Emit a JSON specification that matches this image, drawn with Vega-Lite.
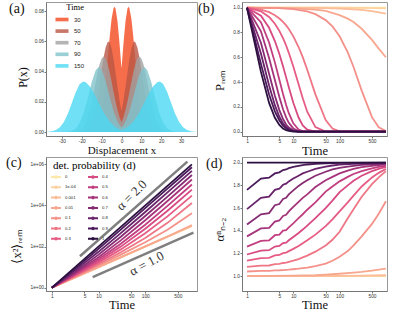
{
"$schema": "https://vega.github.io/schema/vega-lite/v6.json",
"padding": {"left": 5, "top": 1, "right": 0, "bottom": 0},
"bounds": "flush",
"columns": 2,
"spacing": {"row": 21, "column": 45},
"resolve": {"scale": {"color": "independent"}, "legend": {"color": "independent"}},
"config": {
  "view": {"stroke": "#999999", "strokeWidth": 1},
  "axis": {"grid": false, "labelFont": "Liberation Sans", "labelFontSize": 4.8, "labelColor": "#333333", "labelPadding": 0.5, "tickSize": 2, "tickColor": "#555555", "tickWidth": 0.8, "domainColor": "#777777", "domainWidth": 1, "titleFont": "Liberation Serif", "titleFontWeight": "normal", "titleColor": "#111111", "titleFontSize": 12.5},
  "title": {"font": "Liberation Serif", "fontSize": 14, "fontWeight": "normal", "color": "#111111", "anchor": "start", "frame": "group", "offset": -13.5},
  "legend": {"padding": 0}
},
"datasets": {
"a": [
{"s":"30","x":-38,"p":0},{"s":"30","x":-20,"p":0},{"s":"30","x":-16,"p":0.0001},{"s":"30","x":-14,"p":0.0005},{"s":"30","x":-12,"p":0.003},{"s":"30","x":-10,"p":0.0119},{"s":"30","x":-9,"p":0.0207},{"s":"30","x":-8,"p":0.0328},{"s":"30","x":-7,"p":0.0473},{"s":"30","x":-6,"p":0.0623},{"s":"30","x":-5,"p":0.0749},{"s":"30","x":-4,"p":0.082},{"s":"30","x":-3.5,"p":0.083},{"s":"30","x":-3,"p":0.0818},{"s":"30","x":-2,"p":0.0732},{"s":"30","x":-1,"p":0.0587},{"s":"30","x":0,"p":0.042},{"s":"30","x":1,"p":0.0587},{"s":"30","x":2,"p":0.0732},{"s":"30","x":3,"p":0.0818},{"s":"30","x":3.5,"p":0.083},{"s":"30","x":4,"p":0.082},{"s":"30","x":5,"p":0.0749},{"s":"30","x":6,"p":0.0623},{"s":"30","x":7,"p":0.0473},{"s":"30","x":8,"p":0.0328},{"s":"30","x":9,"p":0.0207},{"s":"30","x":10,"p":0.0119},{"s":"30","x":12,"p":0.003},{"s":"30","x":14,"p":0.0005},{"s":"30","x":16,"p":0.0001},{"s":"30","x":20,"p":0},{"s":"30","x":38,"p":0},
{"s":"50","x":-38,"p":0},{"s":"50","x":-22,"p":0},{"s":"50","x":-20,"p":0.0002},{"s":"50","x":-18,"p":0.001},{"s":"50","x":-16,"p":0.0036},{"s":"50","x":-14,"p":0.0103},{"s":"50","x":-13,"p":0.016},{"s":"50","x":-12,"p":0.0233},{"s":"50","x":-11,"p":0.0319},{"s":"50","x":-10,"p":0.0409},{"s":"50","x":-9,"p":0.0494},{"s":"50","x":-8,"p":0.0559},{"s":"50","x":-7,"p":0.0595},{"s":"50","x":-6.5,"p":0.06},{"s":"50","x":-6,"p":0.0595},{"s":"50","x":-5,"p":0.0555},{"s":"50","x":-4,"p":0.0483},{"s":"50","x":-3,"p":0.0393},{"s":"50","x":-2,"p":0.0298},{"s":"50","x":-1,"p":0.0211},{"s":"50","x":0,"p":0.0139},{"s":"50","x":1,"p":0.0211},{"s":"50","x":2,"p":0.0298},{"s":"50","x":3,"p":0.0393},{"s":"50","x":4,"p":0.0483},{"s":"50","x":5,"p":0.0555},{"s":"50","x":6,"p":0.0595},{"s":"50","x":6.5,"p":0.06},{"s":"50","x":7,"p":0.0595},{"s":"50","x":8,"p":0.0559},{"s":"50","x":9,"p":0.0494},{"s":"50","x":10,"p":0.0409},{"s":"50","x":11,"p":0.0319},{"s":"50","x":12,"p":0.0233},{"s":"50","x":13,"p":0.016},{"s":"50","x":14,"p":0.0103},{"s":"50","x":16,"p":0.0036},{"s":"50","x":18,"p":0.001},{"s":"50","x":20,"p":0.0002},{"s":"50","x":22,"p":0},{"s":"50","x":38,"p":0},
{"s":"70","x":-38,"p":0},{"s":"70","x":-26,"p":0},{"s":"70","x":-24,"p":0.0001},{"s":"70","x":-22,"p":0.0006},{"s":"70","x":-20,"p":0.0022},{"s":"70","x":-18,"p":0.0062},{"s":"70","x":-16,"p":0.0141},{"s":"70","x":-14,"p":0.0262},{"s":"70","x":-12,"p":0.0396},{"s":"70","x":-11,"p":0.0451},{"s":"70","x":-10,"p":0.0487},{"s":"70","x":-9,"p":0.05},{"s":"70","x":-8,"p":0.0488},{"s":"70","x":-7,"p":0.0452},{"s":"70","x":-6,"p":0.0399},{"s":"70","x":-5,"p":0.0334},{"s":"70","x":-4,"p":0.0267},{"s":"70","x":-3,"p":0.0202},{"s":"70","x":-2,"p":0.0146},{"s":"70","x":-1,"p":0.01},{"s":"70","x":0,"p":0.0065},{"s":"70","x":1,"p":0.01},{"s":"70","x":2,"p":0.0146},{"s":"70","x":3,"p":0.0202},{"s":"70","x":4,"p":0.0267},{"s":"70","x":5,"p":0.0334},{"s":"70","x":6,"p":0.0399},{"s":"70","x":7,"p":0.0452},{"s":"70","x":8,"p":0.0488},{"s":"70","x":9,"p":0.05},{"s":"70","x":10,"p":0.0487},{"s":"70","x":11,"p":0.0451},{"s":"70","x":12,"p":0.0396},{"s":"70","x":14,"p":0.0262},{"s":"70","x":16,"p":0.0141},{"s":"70","x":18,"p":0.0062},{"s":"70","x":20,"p":0.0022},{"s":"70","x":22,"p":0.0006},{"s":"70","x":24,"p":0.0001},{"s":"70","x":26,"p":0},{"s":"70","x":38,"p":0},
{"s":"90","x":-38,"p":0},{"s":"90","x":-29,"p":0},{"s":"90","x":-27,"p":0.0002},{"s":"90","x":-25,"p":0.0008},{"s":"90","x":-23,"p":0.0024},{"s":"90","x":-21,"p":0.0061},{"s":"90","x":-19,"p":0.0127},{"s":"90","x":-17,"p":0.0223},{"s":"90","x":-15,"p":0.033},{"s":"90","x":-13,"p":0.041},{"s":"90","x":-11.5,"p":0.043},{"s":"90","x":-10,"p":0.0411},{"s":"90","x":-9,"p":0.0379},{"s":"90","x":-8,"p":0.0337},{"s":"90","x":-7,"p":0.0287},{"s":"90","x":-6,"p":0.0235},{"s":"90","x":-5,"p":0.0185},{"s":"90","x":-4,"p":0.014},{"s":"90","x":-3,"p":0.0101},{"s":"90","x":-2,"p":0.0071},{"s":"90","x":-1,"p":0.0047},{"s":"90","x":0,"p":0.0031},{"s":"90","x":1,"p":0.0047},{"s":"90","x":2,"p":0.0071},{"s":"90","x":3,"p":0.0101},{"s":"90","x":4,"p":0.014},{"s":"90","x":5,"p":0.0185},{"s":"90","x":6,"p":0.0235},{"s":"90","x":7,"p":0.0287},{"s":"90","x":8,"p":0.0337},{"s":"90","x":9,"p":0.0379},{"s":"90","x":10,"p":0.0411},{"s":"90","x":11.5,"p":0.043},{"s":"90","x":13,"p":0.041},{"s":"90","x":15,"p":0.033},{"s":"90","x":17,"p":0.0223},{"s":"90","x":19,"p":0.0127},{"s":"90","x":21,"p":0.0061},{"s":"90","x":23,"p":0.0024},{"s":"90","x":25,"p":0.0008},{"s":"90","x":27,"p":0.0002},{"s":"90","x":29,"p":0},{"s":"90","x":38,"p":0},
{"s":"150","x":-38,"p":0.0001},{"s":"150","x":-35,"p":0.0005},{"s":"150","x":-33,"p":0.0013},{"s":"150","x":-31,"p":0.0032},{"s":"150","x":-29,"p":0.0067},{"s":"150","x":-27,"p":0.0121},{"s":"150","x":-25,"p":0.0192},{"s":"150","x":-23,"p":0.0265},{"s":"150","x":-21,"p":0.0319},{"s":"150","x":-19.3,"p":0.0335},{"s":"150","x":-18,"p":0.033},{"s":"150","x":-16,"p":0.0304},{"s":"150","x":-14,"p":0.0261},{"s":"150","x":-12,"p":0.0209},{"s":"150","x":-9,"p":0.013},{"s":"150","x":-6,"p":0.007},{"s":"150","x":-3,"p":0.0032},{"s":"150","x":0,"p":0.0012},{"s":"150","x":3,"p":0.0032},{"s":"150","x":6,"p":0.007},{"s":"150","x":9,"p":0.013},{"s":"150","x":12,"p":0.0209},{"s":"150","x":14,"p":0.0261},{"s":"150","x":16,"p":0.0304},{"s":"150","x":18,"p":0.033},{"s":"150","x":19.3,"p":0.0335},{"s":"150","x":21,"p":0.0319},{"s":"150","x":23,"p":0.0265},{"s":"150","x":25,"p":0.0192},{"s":"150","x":27,"p":0.0121},{"s":"150","x":29,"p":0.0067},{"s":"150","x":31,"p":0.0032},{"s":"150","x":33,"p":0.0013},{"s":"150","x":35,"p":0.0005},{"s":"150","x":38,"p":0.0001}
],
"b": [
{"d":"0","t":1,"v":1},{"d":"0","t":1000,"v":1},
{"d":"1e-04","t":1,"v":1},{"d":"1e-04","t":100,"v":0.9995},{"d":"1e-04","t":300,"v":0.998},{"d":"1e-04","t":1000,"v":0.995},
{"d":"0.001","t":1,"v":1},{"d":"0.001","t":30,"v":0.998},{"d":"0.001","t":100,"v":0.993},{"d":"0.001","t":200,"v":0.987},{"d":"0.001","t":300,"v":0.982},{"d":"0.001","t":500,"v":0.973},{"d":"0.001","t":700,"v":0.963},{"d":"0.001","t":1000,"v":0.952},
{"d":"0.01","t":1,"v":1},{"d":"0.01","t":10,"v":0.995},{"d":"0.01","t":30,"v":0.985},{"d":"0.01","t":50,"v":0.975},{"d":"0.01","t":100,"v":0.94},{"d":"0.01","t":150,"v":0.912},{"d":"0.01","t":200,"v":0.885},{"d":"0.01","t":300,"v":0.83},{"d":"0.01","t":500,"v":0.74},{"d":"0.01","t":700,"v":0.67},{"d":"0.01","t":1000,"v":0.6},
{"d":"0.1","t":1,"v":1},{"d":"0.1","t":2,"v":0.9993},{"d":"0.1","t":3,"v":0.9984},{"d":"0.1","t":5,"v":0.996},{"d":"0.1","t":10,"v":0.988},{"d":"0.1","t":20,"v":0.97},{"d":"0.1","t":30,"v":0.948},{"d":"0.1","t":50,"v":0.9},{"d":"0.1","t":70,"v":0.849},{"d":"0.1","t":100,"v":0.769},{"d":"0.1","t":150,"v":0.64},{"d":"0.1","t":200,"v":0.522},{"d":"0.1","t":300,"v":0.331},{"d":"0.1","t":500,"v":0.117},{"d":"0.1","t":700,"v":0.036},{"d":"0.1","t":1000,"v":0.005},
{"d":"0.2","t":1,"v":1},{"d":"0.2","t":2,"v":0.985},{"d":"0.2","t":3,"v":0.964},{"d":"0.2","t":4,"v":0.939},{"d":"0.2","t":5,"v":0.913},{"d":"0.2","t":6,"v":0.885},{"d":"0.2","t":7,"v":0.857},{"d":"0.2","t":8,"v":0.828},{"d":"0.2","t":10,"v":0.769},{"d":"0.2","t":13,"v":0.683},{"d":"0.2","t":16,"v":0.601},{"d":"0.2","t":20,"v":0.5},{"d":"0.2","t":30,"v":0.301},{"d":"0.2","t":50,"v":0.093},{"d":"0.2","t":70,"v":0.025},{"d":"0.2","t":100,"v":0.003},{"d":"0.2","t":150,"v":0},{"d":"0.2","t":1000,"v":0},
{"d":"0.3","t":1,"v":1},{"d":"0.3","t":2,"v":0.971},{"d":"0.3","t":3,"v":0.925},{"d":"0.3","t":4,"v":0.871},{"d":"0.3","t":5,"v":0.813},{"d":"0.3","t":6,"v":0.754},{"d":"0.3","t":7,"v":0.695},{"d":"0.3","t":8,"v":0.636},{"d":"0.3","t":10,"v":0.526},{"d":"0.3","t":13,"v":0.382},{"d":"0.3","t":16,"v":0.269},{"d":"0.3","t":20,"v":0.161},{"d":"0.3","t":30,"v":0.037},{"d":"0.3","t":50,"v":0.001},{"d":"0.3","t":70,"v":0},{"d":"0.3","t":1000,"v":0},
{"d":"0.4","t":1,"v":1},{"d":"0.4","t":2,"v":0.935},{"d":"0.4","t":3,"v":0.838},{"d":"0.4","t":4,"v":0.731},{"d":"0.4","t":5,"v":0.627},{"d":"0.4","t":6,"v":0.528},{"d":"0.4","t":7,"v":0.438},{"d":"0.4","t":8,"v":0.359},{"d":"0.4","t":10,"v":0.233},{"d":"0.4","t":13,"v":0.114},{"d":"0.4","t":16,"v":0.051},{"d":"0.4","t":20,"v":0.016},{"d":"0.4","t":30,"v":0.0006},{"d":"0.4","t":50,"v":0},{"d":"0.4","t":1000,"v":0},
{"d":"0.5","t":1,"v":1},{"d":"0.5","t":2,"v":0.883},{"d":"0.5","t":3,"v":0.719},{"d":"0.5","t":4,"v":0.559},{"d":"0.5","t":5,"v":0.419},{"d":"0.5","t":6,"v":0.304},{"d":"0.5","t":7,"v":0.215},{"d":"0.5","t":8,"v":0.149},{"d":"0.5","t":10,"v":0.067},{"d":"0.5","t":13,"v":0.017},{"d":"0.5","t":16,"v":0.004},{"d":"0.5","t":20,"v":0.0004},{"d":"0.5","t":30,"v":0},{"d":"0.5","t":1000,"v":0},
{"d":"0.6","t":1,"v":1},{"d":"0.6","t":2,"v":0.81},{"d":"0.6","t":3,"v":0.595},{"d":"0.6","t":4,"v":0.416},{"d":"0.6","t":5,"v":0.279},{"d":"0.6","t":6,"v":0.181},{"d":"0.6","t":7,"v":0.115},{"d":"0.6","t":8,"v":0.071},{"d":"0.6","t":10,"v":0.026},{"d":"0.6","t":13,"v":0.005},{"d":"0.6","t":16,"v":0.0008},{"d":"0.6","t":20,"v":0},{"d":"0.6","t":1000,"v":0},
{"d":"0.7","t":1,"v":1},{"d":"0.7","t":2,"v":0.718},{"d":"0.7","t":3,"v":0.467},{"d":"0.7","t":4,"v":0.29},{"d":"0.7","t":5,"v":0.174},{"d":"0.7","t":6,"v":0.102},{"d":"0.7","t":7,"v":0.058},{"d":"0.7","t":8,"v":0.033},{"d":"0.7","t":10,"v":0.0098},{"d":"0.7","t":13,"v":0.0014},{"d":"0.7","t":16,"v":0},{"d":"0.7","t":1000,"v":0},
{"d":"0.8","t":1,"v":1},{"d":"0.8","t":2,"v":0.631},{"d":"0.8","t":3,"v":0.373},{"d":"0.8","t":4,"v":0.214},{"d":"0.8","t":5,"v":0.12},{"d":"0.8","t":6,"v":0.067},{"d":"0.8","t":7,"v":0.037},{"d":"0.8","t":8,"v":0.02},{"d":"0.8","t":10,"v":0.0057},{"d":"0.8","t":13,"v":0.0008},{"d":"0.8","t":16,"v":0},{"d":"0.8","t":1000,"v":0},
{"d":"0.9","t":1,"v":1},{"d":"0.9","t":2,"v":0.547},{"d":"0.9","t":3,"v":0.3},{"d":"0.9","t":4,"v":0.164},{"d":"0.9","t":5,"v":0.09},{"d":"0.9","t":6,"v":0.049},{"d":"0.9","t":7,"v":0.027},{"d":"0.9","t":8,"v":0.015},{"d":"0.9","t":10,"v":0.0044},{"d":"0.9","t":13,"v":0.0007},{"d":"0.9","t":16,"v":0},{"d":"0.9","t":1000,"v":0},
{"d":"1","t":1,"v":1},{"d":"1","t":2,"v":0.482},{"d":"1","t":3,"v":0.232},{"d":"1","t":4,"v":0.112},{"d":"1","t":5,"v":0.054},{"d":"1","t":6,"v":0.026},{"d":"1","t":7,"v":0.0125},{"d":"1","t":8,"v":0.006},{"d":"1","t":10,"v":0.0014},{"d":"1","t":13,"v":0.0002},{"d":"1","t":16,"v":0},{"d":"1","t":1000,"v":0}
],
"c": [
{"d":"0","t":1,"v":1},{"d":"0","t":1000,"v":1000},
{"d":"1e-04","t":1,"v":1},{"d":"1e-04","t":1000,"v":1001},
{"d":"0.001","t":1,"v":1},{"d":"0.001","t":100,"v":100},{"d":"0.001","t":1000,"v":1012},
{"d":"0.01","t":1,"v":1},{"d":"0.01","t":10,"v":10},{"d":"0.01","t":100,"v":101.4},{"d":"0.01","t":300,"v":309},{"d":"0.01","t":1000,"v":1122},
{"d":"0.1","t":1,"v":1},{"d":"0.1","t":3,"v":3.26},{"d":"0.1","t":10,"v":12},{"d":"0.1","t":30,"v":40.3},{"d":"0.1","t":100,"v":161},{"d":"0.1","t":300,"v":664},{"d":"0.1","t":1000,"v":4169},
{"d":"0.2","t":1,"v":1},{"d":"0.2","t":3,"v":3.46},{"d":"0.2","t":10,"v":13.8},{"d":"0.2","t":30,"v":52.4},{"d":"0.2","t":100,"v":258},{"d":"0.2","t":300,"v":1426},{"d":"0.2","t":1000,"v":13180},
{"d":"0.3","t":1,"v":1},{"d":"0.3","t":3,"v":3.71},{"d":"0.3","t":10,"v":16.6},{"d":"0.3","t":30,"v":72.8},{"d":"0.3","t":100,"v":444},{"d":"0.3","t":300,"v":2931},{"d":"0.3","t":1000,"v":30200},
{"d":"0.4","t":1,"v":1},{"d":"0.4","t":3,"v":3.96},{"d":"0.4","t":10,"v":19.7},{"d":"0.4","t":30,"v":99.3},{"d":"0.4","t":100,"v":733},{"d":"0.4","t":300,"v":5495},{"d":"0.4","t":1000,"v":58880},
{"d":"0.5","t":1,"v":1},{"d":"0.5","t":3,"v":4.31},{"d":"0.5","t":10,"v":23.9},{"d":"0.5","t":30,"v":136},{"d":"0.5","t":100,"v":1159},{"d":"0.5","t":300,"v":9484},{"d":"0.5","t":1000,"v":104700},
{"d":"0.6","t":1,"v":1},{"d":"0.6","t":3,"v":4.78},{"d":"0.6","t":10,"v":30.3},{"d":"0.6","t":30,"v":200},{"d":"0.6","t":100,"v":1897},{"d":"0.6","t":300,"v":16370},{"d":"0.6","t":1000,"v":182000},
{"d":"0.7","t":1,"v":1},{"d":"0.7","t":3,"v":5.38},{"d":"0.7","t":10,"v":40.4},{"d":"0.7","t":30,"v":299},{"d":"0.7","t":100,"v":3076},{"d":"0.7","t":300,"v":27040},{"d":"0.7","t":1000,"v":302000},
{"d":"0.8","t":1,"v":1},{"d":"0.8","t":3,"v":6.37},{"d":"0.8","t":10,"v":55.5},{"d":"0.8","t":30,"v":451},{"d":"0.8","t":100,"v":4819},{"d":"0.8","t":300,"v":42950},{"d":"0.8","t":1000,"v":478600},
{"d":"0.9","t":1,"v":1},{"d":"0.9","t":3,"v":7.59},{"d":"0.9","t":10,"v":76.7},{"d":"0.9","t":30,"v":668},{"d":"0.9","t":100,"v":7345},{"d":"0.9","t":300,"v":65620},{"d":"0.9","t":1000,"v":724400},
{"d":"1","t":1,"v":1},{"d":"1","t":1000,"v":1000000}
],
"refs": [
{"r":"a2","t":4,"v":34},{"r":"a2","t":800,"v":1360000},
{"r":"a1","t":7.5,"v":3.3},{"r":"a1","t":1080,"v":475}
],
"l2": [{"t":51.6,"v":31200,"label":"α = 2.0"}],
"l1": [{"t":108,"v":14.7,"label":"α = 1.0"}],
"d": [
{"d":"0","t":1,"v":1},{"d":"0","t":1000,"v":1},
{"d":"1e-04","t":1,"v":1},{"d":"1e-04","t":1000,"v":1.001},
{"d":"0.001","t":1,"v":1},{"d":"0.001","t":100,"v":1.002},{"d":"0.001","t":300,"v":1.004},{"d":"0.001","t":1000,"v":1.007},
{"d":"0.01","t":1,"v":1},{"d":"0.01","t":10,"v":1.003},{"d":"0.01","t":30,"v":1.007},{"d":"0.01","t":50,"v":1.012},{"d":"0.01","t":100,"v":1.02},{"d":"0.01","t":200,"v":1.03},{"d":"0.01","t":300,"v":1.037},{"d":"0.01","t":500,"v":1.048},{"d":"0.01","t":700,"v":1.056},{"d":"0.01","t":1000,"v":1.065},
{"d":"0.1","t":1,"v":1.04},{"d":"0.1","t":2,"v":1.045},{"d":"0.1","t":3,"v":1.046},{"d":"0.1","t":4,"v":1.05},{"d":"0.1","t":5,"v":1.051},{"d":"0.1","t":6,"v":1.053},{"d":"0.1","t":8,"v":1.056},{"d":"0.1","t":10,"v":1.06},{"d":"0.1","t":13,"v":1.065},{"d":"0.1","t":16,"v":1.07},{"d":"0.1","t":20,"v":1.075},{"d":"0.1","t":30,"v":1.088},{"d":"0.1","t":50,"v":1.11},{"d":"0.1","t":70,"v":1.135},{"d":"0.1","t":100,"v":1.17},{"d":"0.1","t":150,"v":1.22},{"d":"0.1","t":200,"v":1.27},{"d":"0.1","t":300,"v":1.35},{"d":"0.1","t":500,"v":1.46},{"d":"0.1","t":700,"v":1.55},{"d":"0.1","t":1000,"v":1.66},
{"d":"0.2","t":1,"v":1.08},{"d":"0.2","t":2,"v":1.092},{"d":"0.2","t":3,"v":1.093},{"d":"0.2","t":4,"v":1.105},{"d":"0.2","t":5,"v":1.107},{"d":"0.2","t":6,"v":1.115},{"d":"0.2","t":7,"v":1.118},{"d":"0.2","t":8,"v":1.125},{"d":"0.2","t":10,"v":1.135},{"d":"0.2","t":13,"v":1.15},{"d":"0.2","t":16,"v":1.165},{"d":"0.2","t":20,"v":1.18},{"d":"0.2","t":30,"v":1.215},{"d":"0.2","t":50,"v":1.27},{"d":"0.2","t":70,"v":1.32},{"d":"0.2","t":100,"v":1.39},{"d":"0.2","t":150,"v":1.51},{"d":"0.2","t":200,"v":1.59},{"d":"0.2","t":300,"v":1.7},{"d":"0.2","t":500,"v":1.81},{"d":"0.2","t":700,"v":1.87},{"d":"0.2","t":1000,"v":1.925},
{"d":"0.3","t":1,"v":1.135},{"d":"0.3","t":2,"v":1.158},{"d":"0.3","t":3,"v":1.16},{"d":"0.3","t":4,"v":1.182},{"d":"0.3","t":5,"v":1.186},{"d":"0.3","t":6,"v":1.202},{"d":"0.3","t":7,"v":1.207},{"d":"0.3","t":8,"v":1.22},{"d":"0.3","t":10,"v":1.24},{"d":"0.3","t":13,"v":1.265},{"d":"0.3","t":16,"v":1.29},{"d":"0.3","t":20,"v":1.315},{"d":"0.3","t":30,"v":1.365},{"d":"0.3","t":50,"v":1.44},{"d":"0.3","t":70,"v":1.5},{"d":"0.3","t":100,"v":1.57},{"d":"0.3","t":150,"v":1.65},{"d":"0.3","t":200,"v":1.71},{"d":"0.3","t":300,"v":1.79},{"d":"0.3","t":500,"v":1.87},{"d":"0.3","t":700,"v":1.91},{"d":"0.3","t":1000,"v":1.945},
{"d":"0.4","t":1,"v":1.19},{"d":"0.4","t":2,"v":1.225},{"d":"0.4","t":3,"v":1.228},{"d":"0.4","t":4,"v":1.26},{"d":"0.4","t":5,"v":1.265},{"d":"0.4","t":6,"v":1.29},{"d":"0.4","t":7,"v":1.295},{"d":"0.4","t":8,"v":1.315},{"d":"0.4","t":10,"v":1.345},{"d":"0.4","t":13,"v":1.38},{"d":"0.4","t":16,"v":1.41},{"d":"0.4","t":20,"v":1.445},{"d":"0.4","t":30,"v":1.51},{"d":"0.4","t":50,"v":1.6},{"d":"0.4","t":70,"v":1.665},{"d":"0.4","t":100,"v":1.74},{"d":"0.4","t":150,"v":1.8},{"d":"0.4","t":200,"v":1.84},{"d":"0.4","t":300,"v":1.885},{"d":"0.4","t":500,"v":1.925},{"d":"0.4","t":700,"v":1.945},{"d":"0.4","t":1000,"v":1.962},
{"d":"0.5","t":1,"v":1.26},{"d":"0.5","t":2,"v":1.31},{"d":"0.5","t":3,"v":1.315},{"d":"0.5","t":4,"v":1.36},{"d":"0.5","t":5,"v":1.365},{"d":"0.5","t":6,"v":1.4},{"d":"0.5","t":7,"v":1.405},{"d":"0.5","t":8,"v":1.43},{"d":"0.5","t":10,"v":1.465},{"d":"0.5","t":13,"v":1.51},{"d":"0.5","t":16,"v":1.545},{"d":"0.5","t":20,"v":1.585},{"d":"0.5","t":30,"v":1.65},{"d":"0.5","t":50,"v":1.745},{"d":"0.5","t":70,"v":1.79},{"d":"0.5","t":100,"v":1.835},{"d":"0.5","t":150,"v":1.875},{"d":"0.5","t":200,"v":1.9},{"d":"0.5","t":300,"v":1.925},{"d":"0.5","t":500,"v":1.95},{"d":"0.5","t":700,"v":1.962},{"d":"0.5","t":1000,"v":1.972},
{"d":"0.6","t":1,"v":1.35},{"d":"0.6","t":2,"v":1.42},{"d":"0.6","t":3,"v":1.425},{"d":"0.6","t":4,"v":1.48},{"d":"0.6","t":5,"v":1.49},{"d":"0.6","t":6,"v":1.53},{"d":"0.6","t":7,"v":1.54},{"d":"0.6","t":8,"v":1.57},{"d":"0.6","t":10,"v":1.61},{"d":"0.6","t":13,"v":1.655},{"d":"0.6","t":16,"v":1.69},{"d":"0.6","t":20,"v":1.72},{"d":"0.6","t":30,"v":1.785},{"d":"0.6","t":50,"v":1.845},{"d":"0.6","t":70,"v":1.875},{"d":"0.6","t":100,"v":1.905},{"d":"0.6","t":150,"v":1.93},{"d":"0.6","t":200,"v":1.945},{"d":"0.6","t":300,"v":1.96},{"d":"0.6","t":500,"v":1.972},{"d":"0.6","t":700,"v":1.978},{"d":"0.6","t":1000,"v":1.983},
{"d":"0.7","t":1,"v":1.455},{"d":"0.7","t":2,"v":1.545},{"d":"0.7","t":3,"v":1.555},{"d":"0.7","t":4,"v":1.625},{"d":"0.7","t":5,"v":1.635},{"d":"0.7","t":6,"v":1.68},{"d":"0.7","t":7,"v":1.69},{"d":"0.7","t":8,"v":1.72},{"d":"0.7","t":10,"v":1.755},{"d":"0.7","t":13,"v":1.795},{"d":"0.7","t":16,"v":1.82},{"d":"0.7","t":20,"v":1.845},{"d":"0.7","t":30,"v":1.885},{"d":"0.7","t":50,"v":1.92},{"d":"0.7","t":70,"v":1.94},{"d":"0.7","t":100,"v":1.955},{"d":"0.7","t":150,"v":1.965},{"d":"0.7","t":200,"v":1.972},{"d":"0.7","t":300,"v":1.98},{"d":"0.7","t":500,"v":1.985},{"d":"0.7","t":1000,"v":1.99},
{"d":"0.8","t":1,"v":1.59},{"d":"0.8","t":2,"v":1.69},{"d":"0.8","t":3,"v":1.7},{"d":"0.8","t":4,"v":1.76},{"d":"0.8","t":5,"v":1.77},{"d":"0.8","t":6,"v":1.805},{"d":"0.8","t":7,"v":1.815},{"d":"0.8","t":8,"v":1.835},{"d":"0.8","t":10,"v":1.86},{"d":"0.8","t":13,"v":1.885},{"d":"0.8","t":16,"v":1.905},{"d":"0.8","t":20,"v":1.92},{"d":"0.8","t":30,"v":1.945},{"d":"0.8","t":50,"v":1.965},{"d":"0.8","t":70,"v":1.975},{"d":"0.8","t":100,"v":1.982},{"d":"0.8","t":200,"v":1.99},{"d":"0.8","t":500,"v":1.995},{"d":"0.8","t":1000,"v":1.997},
{"d":"0.9","t":1,"v":1.76},{"d":"0.9","t":2,"v":1.86},{"d":"0.9","t":3,"v":1.868},{"d":"0.9","t":4,"v":1.905},{"d":"0.9","t":5,"v":1.915},{"d":"0.9","t":6,"v":1.935},{"d":"0.9","t":7,"v":1.94},{"d":"0.9","t":8,"v":1.952},{"d":"0.9","t":10,"v":1.963},{"d":"0.9","t":13,"v":1.972},{"d":"0.9","t":16,"v":1.978},{"d":"0.9","t":20,"v":1.984},{"d":"0.9","t":30,"v":1.99},{"d":"0.9","t":50,"v":1.995},{"d":"0.9","t":100,"v":1.998},{"d":"0.9","t":1000,"v":2},
{"d":"1","t":1,"v":2},{"d":"1","t":1000,"v":2}
]
},
"concat": [
{
 "width": 151, "height": 134,
 "title": {"text": "(a)", "dx": -37},
 "data": {"name": "a"},
 "mark": {"type": "area", "opacity": 0.8},
 "encoding": {
  "x": {"field": "x", "type": "quantitative", "scale": {"domain": [-38, 38], "nice": false, "zero": false}, "axis": {"values": [-30,-20,-10,0,10,20,30], "labelExpr": "'' + datum.value", "title": "Displacement x", "titleFontSize": 11, "titleY": 8.5}},
  "y": {"field": "p", "type": "quantitative", "stack": null, "scale": {"domain": [-0.0026, 0.0861], "nice": false, "zero": false}, "axis": {"values": [0,0.02,0.04,0.06,0.08], "format": ".2f", "title": "P(x)", "titleFontSize": 12, "titleX": -17, "titleY": 75}},
  "color": {"field": "s", "type": "nominal", "scale": {"domain": ["30","50","70","90","150"], "range": ["#F4491F","#BA5645","#A1A1A1","#81C3CC","#4BD8F3"]}, "legend": {"title": "Time", "orient": "none", "legendX": 9, "legendY": 1, "titleFont": "Liberation Serif", "titleFontSize": 8.5, "titleFontWeight": "normal", "titleAnchor": "end", "titlePadding": 1, "labelFont": "Liberation Sans", "labelFontSize": 6, "labelColor": "#222222", "labelOffset": 5, "symbolType": "M-1,-0.28L1,-0.28L1,0.28L-1,0.28Z", "symbolSize": 170, "symbolStrokeWidth": 0, "rowPadding": 1.6}}
 }
},
{
 "width": 145, "height": 134,
 "title": {"text": "(b)", "dx": -44},
 "data": {"name": "b"},
 "mark": {"type": "line", "strokeWidth": 1.8},
 "encoding": {
  "x": {"field": "t", "type": "quantitative", "scale": {"type": "log", "domain": [0.78, 1056], "nice": false}, "axis": {"values": [1,5,10,50,100,500], "format": "d", "title": "Time", "titleY": 8}},
  "y": {"field": "v", "type": "quantitative", "scale": {"domain": [-0.035, 1.046], "nice": false, "zero": false}, "axis": {"values": [0,0.2,0.4,0.6,0.8,1], "format": ".1f", "title": "Pᵣₑₘ", "titleX": -16, "titleY": 78}},
  "color": {"field": "d", "type": "nominal", "scale": {"domain": ["0","1e-04","0.001","0.01","0.1","0.2","0.3","0.4","0.5","0.6","0.7","0.8","0.9","1"], "range": ["#FDE7A9","#FCD3A0","#FBBE98","#F8A78F","#F4918A","#EE7686","#E65C84","#D84A82","#C13E80","#A5347B","#872C73","#68236A","#4A1A5A","#2C1040"]}, "legend": null}
 }
},
{
 "width": 151, "height": 134,
 "title": {"text": "(c)", "dx": -40},
 "encoding": {
  "x": {"field": "t", "type": "quantitative", "scale": {"type": "log", "domain": [0.75, 1285], "nice": false}, "axis": {"values": [1,5,10,50,100,500], "format": "d", "title": "Time", "titleY": 7.6}},
  "y": {"field": "v", "type": "quantitative", "scale": {"type": "log", "domain": [0.69, 2270000], "nice": false}, "axis": {"values": [1,100,10000,1000000], "labelExpr": "datum.value >= 1000000 ? '1e+06' : datum.value >= 10000 ? '1e+04' : datum.value >= 100 ? '1e+02' : '1e+00'", "title": "⟨x²⟩ᵣₑₘ", "titleX": -23, "titleY": 89}}
 },
 "layer": [
  {"data": {"name": "refs"}, "mark": {"type": "line", "color": "#7f7f7f", "strokeWidth": 2.5}, "encoding": {"detail": {"field": "r", "type": "nominal"}}},
  {"data": {"name": "c"}, "mark": {"type": "line", "strokeWidth": 1.8}, "encoding": {"color": {"field": "d", "type": "nominal", "scale": {"domain": ["0","1e-04","0.001","0.01","0.1","0.2","0.3","0.4","0.5","0.6","0.7","0.8","0.9","1"], "range": ["#FDE7A9","#FCD3A0","#FBBE98","#F8A78F","#F4918A","#EE7686","#E65C84","#D84A82","#C13E80","#A5347B","#872C73","#68236A","#4A1A5A","#2C1040"]}, "legend": {"title": "det. probability (d)", "orient": "none", "legendX": 7, "legendY": 3, "columns": 2, "columnPadding": 8, "rowPadding": 0.3, "titleFont": "Liberation Serif", "titleFontSize": 11, "titleFontWeight": "normal", "titlePadding": 3, "labelFont": "Liberation Sans", "labelFontSize": 4.2, "labelColor": "#222222", "labelOffset": 6, "symbolType": "M-2.5,0L2.5,0M-0.4,0A0.4,0.4,0,1,1,0.4,0A0.4,0.4,0,1,1,-0.4,0", "symbolSize": 16, "symbolStrokeWidth": 2}}}},
  {"data": {"name": "l2"}, "mark": {"type": "text", "angle": 315, "font": "Liberation Serif", "fontSize": 13, "color": "#333333"}, "encoding": {"text": {"field": "label", "type": "nominal"}}},
  {"data": {"name": "l1"}, "mark": {"type": "text", "angle": 332, "font": "Liberation Serif", "fontSize": 13, "color": "#333333"}, "encoding": {"text": {"field": "label", "type": "nominal"}}}
 ]
},
{
 "width": 145, "height": 134,
 "title": {"text": "(d)", "dx": -36},
 "data": {"name": "d"},
 "mark": {"type": "line", "strokeWidth": 1.8},
 "encoding": {
  "x": {"field": "t", "type": "quantitative", "scale": {"type": "log", "domain": [0.78, 1056], "nice": false}, "axis": {"values": [1,5,10,50,100,500], "format": "d", "title": "Time", "titleY": 7.6}},
  "y": {"field": "v", "type": "quantitative", "scale": {"domain": [0.868, 2.05], "nice": false, "zero": false}, "axis": {"values": [1,1.2,1.4,1.6,1.8,2], "format": ".1f", "title": "αⁿₙ₋₂", "titleX": -16, "titleY": 72}},
  "color": {"field": "d", "type": "nominal", "scale": {"domain": ["0","1e-04","0.001","0.01","0.1","0.2","0.3","0.4","0.5","0.6","0.7","0.8","0.9","1"], "range": ["#FDE7A9","#FCD3A0","#FBBE98","#F8A78F","#F4918A","#EE7686","#E65C84","#D84A82","#C13E80","#A5347B","#872C73","#68236A","#4A1A5A","#2C1040"]}, "legend": null}
 }
}
]
}
